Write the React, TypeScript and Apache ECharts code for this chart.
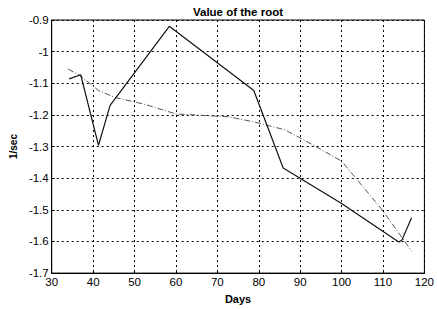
import React, { useEffect, useRef } from "react";
import * as echarts from "echarts";

const solidX = [34.2, 37.0, 41.3, 44.1, 58.4, 78.8, 85.9, 100.0, 113.8, 114.6, 116.9];
const solidY = [-1.086, -1.073, -1.296, -1.17, -0.92, -1.123, -1.368, -1.48, -1.602, -1.595, -1.525];
const dashX = [34.0, 37.0, 41.3, 45.3, 52.3, 60.0, 72.7, 78.8, 86.3, 93.8, 100.0, 109.8, 116.9];
const dashY = [-1.055, -1.077, -1.123, -1.145, -1.166, -1.197, -1.206, -1.222, -1.247, -1.30, -1.346, -1.50, -1.63];

const title = "Value of the root";
const xName = "Days";
const yName = "1/sec";

export default function App() {
  const ref = useRef<HTMLDivElement>(null);
  useEffect(() => {
    if (!ref.current) return;
    const chart = echarts.init(ref.current, null, { renderer: "svg" });
    const font = "Liberation Sans";
    chart.setOption({
      animation: false,
      backgroundColor: "#fff",
      title: {
        text: title,
        left: 233,
        top: 1,
        textAlign: "center",
        textStyle: { fontFamily: font, fontSize: 11.5, fontWeight: "bold", color: "#000" },
      },
      grid: {
        left: 45,
        right: 8,
        top: 20,
        bottom: 30,
        show: true,
        borderColor: "#000",
        borderWidth: 1,
        backgroundColor: "transparent",
      },
      xAxis: {
        type: "value",
        min: 30,
        max: 120,
        interval: 10,
        name: xName,
        nameLocation: "middle",
        nameGap: 19,
        nameTextStyle: { fontFamily: font, fontSize: 11, fontWeight: "bold", color: "#000" },
        axisLine: { lineStyle: { color: "#000", width: 1 } },
        axisTick: { inside: true, length: 3, lineStyle: { color: "#000" } },
        axisLabel: { fontFamily: font, fontSize: 11.5, color: "#000", margin: 3 },
        splitLine: { show: true, lineStyle: { color: "#000", type: [2, 3], width: 1 } },
      },
      yAxis: {
        type: "value",
        min: -1.7,
        max: -0.9,
        interval: 0.1,
        name: yName,
        nameLocation: "middle",
        nameGap: 30,
        nameRotate: 90,
        nameTextStyle: { fontFamily: font, fontSize: 10, fontWeight: "bold", color: "#000" },
        axisLine: { show: true, lineStyle: { color: "#000", width: 1 } },
        axisTick: { inside: true, length: 3, lineStyle: { color: "#000" } },
        axisLabel: {
          fontFamily: font,
          fontSize: 11.5,
          color: "#000",
          margin: 3,
          formatter: (v: number) => String(Math.round(v * 10) / 10),
        },
        splitLine: { show: true, lineStyle: { color: "#000", type: [2, 3], width: 1 } },
      },
      series: [
        {
          type: "line",
          data: solidX.map((x, i) => [x, solidY[i]]),
          symbol: "none",
          lineStyle: { color: "#111", width: 1.2 },
          z: 3,
        },
        {
          type: "line",
          data: dashX.map((x, i) => [x, dashY[i]]),
          symbol: "none",
          lineStyle: { color: "#555", width: 1, type: [6, 2, 1, 2] },
          z: 2,
        },
      ],
    });
    return () => chart.dispose();
  }, []);
  return <div ref={ref} style={{ width: 437, height: 309, position: "absolute", left: 0, top: 0 }} />;
}
